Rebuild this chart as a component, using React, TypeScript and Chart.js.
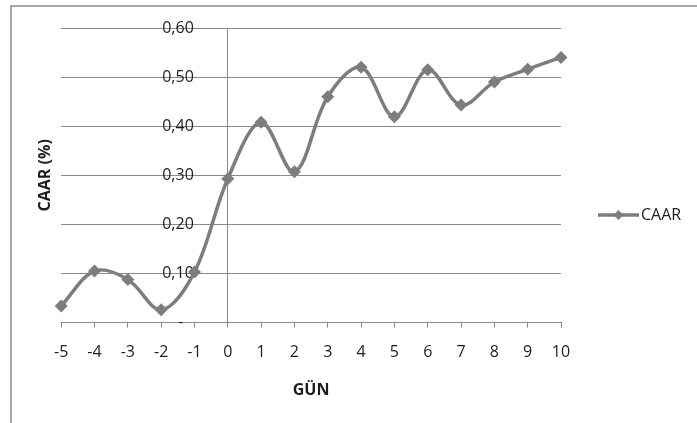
import React, { useEffect, useRef } from "react";
import { Chart, registerables } from "chart.js";

Chart.register(...registerables);

// Event window (days relative to the event) and cumulative average abnormal returns (%)
const days = ["-5", "-4", "-3", "-2", "-1", "0", "1", "2", "3", "4", "5", "6", "7", "8", "9", "10"];
const caar = [0.034, 0.105, 0.088, 0.026, 0.103, 0.293, 0.408, 0.307, 0.46, 0.52, 0.419, 0.515, 0.443, 0.49, 0.516, 0.54];
const seriesName = "CAAR";
const yTitle = "CAAR (%)";
const xTitle = "GÜN";
const yTicks = { min: 0, max: 0.6, step: 0.1 };

const FONT = "'Open Sans', 'DejaVu Sans', sans-serif";
const LINE_GREY = "#7d7d7d";
const GRID_GREY = "#8a8a8a";
const TEXT = "#1e1e1e";

const fmt = (v: number) => (Math.abs(v) < 1e-9 ? "-" : v.toFixed(2).replace(".", ","));

// Outer frame of the chart object
const framePlugin = {
  id: "frame",
  beforeDraw(chart: any) {
    const { ctx, width, height } = chart;
    ctx.save();
    ctx.fillStyle = "#ffffff";
    ctx.fillRect(0, 0, width, height);
    ctx.strokeStyle = "#8c8c8c";
    ctx.lineWidth = 1.5;
    ctx.beginPath();
    ctx.moveTo(11, height);
    ctx.lineTo(11, 6);
    ctx.lineTo(width, 6);
    ctx.stroke();
    ctx.restore();
  },
};

// Value labels of the vertical axis, which crosses the category axis at day 0
const yLabelsPlugin = {
  id: "yLabels",
  beforeDatasetsDraw(chart: any) {
    const { ctx, scales } = chart;
    const x = scales.x.getPixelForValue(days.indexOf("0"));
    ctx.save();
    ctx.font = `16px ${FONT}`;
    ctx.fillStyle = TEXT;
    ctx.textBaseline = "middle";
    scales.y.ticks.forEach((t: any) => {
      const y = scales.y.getPixelForValue(t.value);
      const s = fmt(t.value);
      if (s === "-") {
        ctx.textAlign = "center";
        ctx.fillText(s, x - 47, y);
      } else {
        ctx.textAlign = "right";
        ctx.fillText(s, x - 34, y);
      }
    });
    ctx.restore();
  },
};

// Excel-style "line with marker" legend entry on the right
const legendPlugin = {
  id: "lineLegend",
  afterDraw(chart: any) {
    const { ctx, chartArea } = chart;
    const ds = chart.data.datasets[0];
    const x0 = chartArea.right + 37;
    const x1 = x0 + 41;
    const y = 215;
    ctx.save();
    ctx.strokeStyle = ds.borderColor;
    ctx.lineWidth = 3.5;
    ctx.beginPath();
    ctx.moveTo(x0, y);
    ctx.lineTo(x1, y);
    ctx.stroke();
    const cx = (x0 + x1) / 2;
    const r = 5;
    ctx.fillStyle = ds.pointBackgroundColor;
    ctx.beginPath();
    ctx.moveTo(cx, y - r);
    ctx.lineTo(cx + r, y);
    ctx.lineTo(cx, y + r);
    ctx.lineTo(cx - r, y);
    ctx.closePath();
    ctx.fill();
    ctx.font = `16px ${FONT}`;
    ctx.fillStyle = TEXT;
    ctx.textAlign = "left";
    ctx.textBaseline = "middle";
    ctx.fillText(ds.label, x1 + 2, y);
    ctx.restore();
  },
};

export default function App() {
  const ref = useRef<HTMLCanvasElement | null>(null);

  useEffect(() => {
    if (!ref.current) return;
    Chart.defaults.font.family = FONT;
    const zeroIndex = days.indexOf("0");
    const chart = new Chart(ref.current, {
      type: "line",
      data: {
        labels: days,
        datasets: [
          {
            label: seriesName,
            data: caar,
            borderColor: LINE_GREY,
            backgroundColor: LINE_GREY,
            pointBackgroundColor: LINE_GREY,
            pointBorderColor: LINE_GREY,
            borderWidth: 3.5,
            tension: 0.35,
            pointStyle: "rectRot",
            pointRadius: 6.5,
            pointBorderWidth: 0,
            fill: false,
          },
        ],
      },
      options: {
        responsive: false,
        animation: false,
        events: [],
        layout: { padding: { left: 20, right: 136, top: 28, bottom: 23 } },
        plugins: {
          legend: { display: false },
          tooltip: { enabled: false },
        },
        scales: {
          x: {
            type: "category",
            offset: false,
            grid: {
              display: true,
              drawOnChartArea: true,
              color: (c: any) => (c.index === zeroIndex ? GRID_GREY : "rgba(0,0,0,0)"),
              tickColor: GRID_GREY,
              tickLength: 5,
              lineWidth: 1,
            },
            border: { display: true, color: GRID_GREY, width: 1 },
            ticks: {
              color: TEXT,
              font: { size: 16, family: FONT },
              padding: 15,
              maxRotation: 0,
              autoSkip: false,
            },
            title: {
              display: true,
              text: xTitle,
              color: TEXT,
              font: { size: 16, weight: "bold", family: FONT },
              padding: { top: 4, bottom: 0 },
            },
          },
          y: {
            min: yTicks.min,
            max: yTicks.max,
            ticks: { display: false, stepSize: yTicks.step },
            grid: { color: GRID_GREY, lineWidth: 1, drawTicks: false },
            border: { display: false },
            title: {
              display: true,
              text: yTitle,
              color: TEXT,
              font: { size: 16, weight: "bold", family: FONT },
              padding: { top: 16, bottom: 6 },
            },
          },
        },
      },
      plugins: [framePlugin, yLabelsPlugin, legendPlugin],
    });
    return () => chart.destroy();
  }, []);

  return (
    <div style={{ position: "fixed", left: 0, top: 0, width: 697, height: 423, background: "#fff" }}>
      <canvas ref={ref} width={697} height={423} style={{ display: "block" }} />
    </div>
  );
}
